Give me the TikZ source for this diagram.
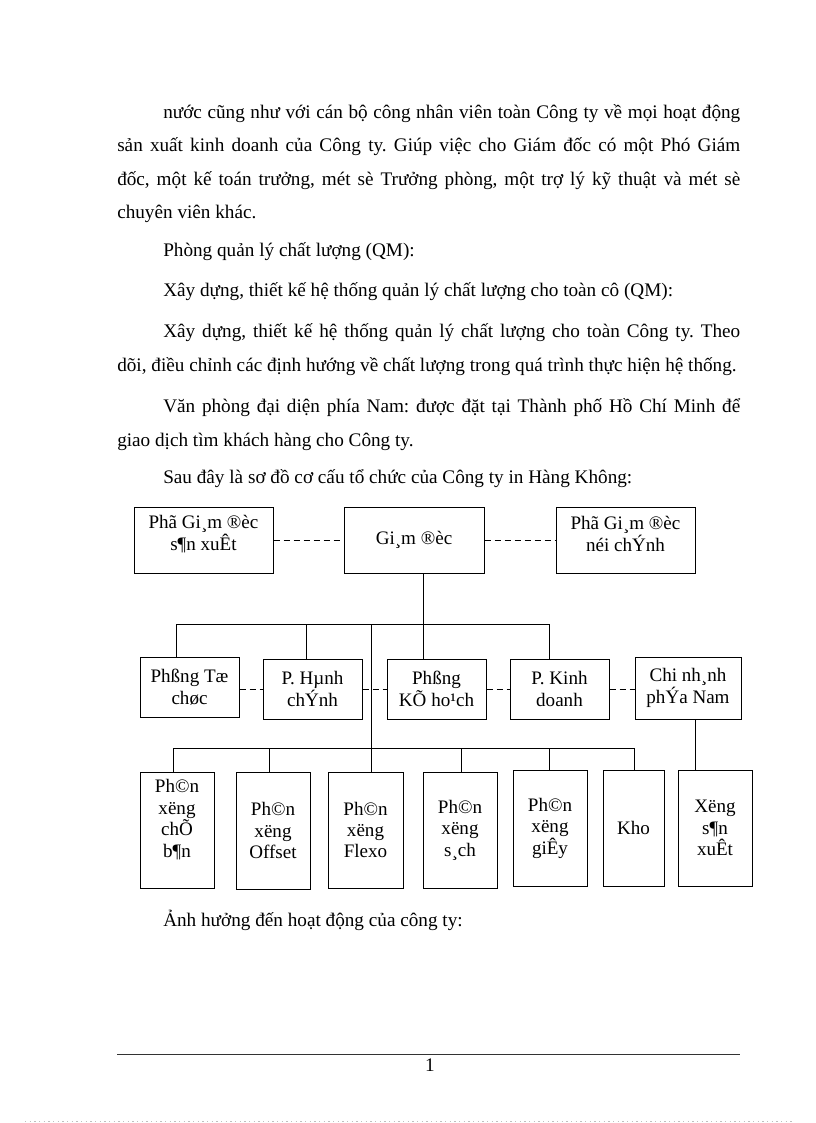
\documentclass[tikz,border=0pt]{standalone}
\usepackage{fontspec}
\setmainfont{Liberation Serif}
\frenchspacing
\begin{document}
\begin{tikzpicture}[x=0.75pt,y=-0.75pt,
  body/.style={anchor=base west, inner sep=0pt, font=\fontsize{14.4pt}{16pt}\selectfont},
  box/.style 2 args={draw, line width=0.75pt, minimum width=#1*0.75pt, minimum height=#2*0.75pt, inner sep=0pt, align=center, font=\fontsize{14.3pt}{16.1pt}\selectfont},
  txt/.style={inner sep=0pt, align=center, font=\fontsize{14.3pt}{16.1pt}\selectfont},
  conn/.style={line width=0.75pt},
  dsh/.style={line width=0.75pt, dash pattern=on 4.5pt off 3pt}]
\useasboundingbox (0,0) rectangle (816,1123);

% body text
\node[body] (l1) at (163,119) {\makebox[432.75pt][s]{nước cũng như với cán bộ công nhân viên toàn Công ty về mọi hoạt động}};
\node[body] (l2) at (117,152) {\makebox[467.25pt][s]{sản xuất kinh doanh của Công ty. Giúp việc cho Giám đốc có một Phó Giám}};
\node[body] (l3) at (117,186) {\makebox[467.25pt][s]{đốc, một kế toán trưởng, mét sè Trưởng phòng, một trợ lý kỹ thuật và mét sè}};
\node[body] (l4) at (117,219) {chuyên viên khác.};
\node[body] (p2) at (163,256) {Phòng quản lý chất lượng (QM):};
\node[body] (p3) at (163,296) {Xây dựng, thiết kế hệ thống quản lý chất lượng cho toàn cô (QM):};
\node[body] (p4a) at (163,337) {\makebox[432.75pt][s]{Xây dựng, thiết kế hệ thống quản lý chất lượng cho toàn Công ty. Theo}};
\node[body] (p4b) at (117,371) {dõi, điều chỉnh các định hướng về chất lượng trong quá trình thực hiện hệ thống.};
\node[body] (p5a) at (163,412) {\makebox[432.75pt][s]{Văn phòng đại diện phía Nam: được đặt tại Thành phố Hồ Chí Minh để}};
\node[body] (p5b) at (117,446) {giao dịch tìm khách hàng cho Công ty.};
\node[body] (p6) at (163,483) {Sau đây là sơ đồ cơ cấu tổ chức của Công ty in Hàng Không:};
\node[body] (p7) at (163,926) {Ảnh hưởng đến hoạt động của công ty:};

% top row
\node[box={139}{66}] (pgsx) at (203.5,540) {};
\node[txt] (pgsxt) at (203.5,534) {Phã Gi¸m ®èc\\s¶n xuÊt};
\node[box={140}{66}] (gd) at (414,540) {Gi¸m ®èc};
\node[box={139}{66}] (pgnc) at (625.5,540) {};
\node[txt] (pgnct) at (625.5,534) {Phã Gi¸m ®èc\\néi chÝnh};
\draw[dsh] (pgsx.east) -- (gd.west);
\draw[dsh] (gd.east) -- (pgnc.west);

% middle row
\node[box={99}{60}] (tc) at (189.5,687) {Phßng Tæ\\chøc};
\node[box={99}{60}] (hc) at (312.5,689) {P. Hµnh\\chÝnh};
\node[box={99}{60}] (kh) at (436.5,689) {Phßng\\KÕ ho¹ch};
\node[box={99}{60}] (kd) at (559.5,689) {P. Kinh\\doanh};
\node[box={106}{62}] (cn) at (688,688) {Chi nh¸nh\\phÝa Nam};

\coordinate (j1) at (423,624);
\draw[conn] (j1 |- gd.south) -- (j1 |- kh.north);
\draw[conn] (176,624) -- (549,624);
\draw[conn] (176,624) -- (176,624 |- tc.north);
\draw[conn] (306,624) -- (306,624 |- hc.north);
\draw[conn] (549,624) -- (549,624 |- kd.north);

\draw[dsh] (tc.east |- hc.west) -- (hc.west);
\draw[dsh] (hc.east) -- (kh.west);
\draw[dsh] (kh.east) -- (kd.west);
\draw[dsh] (kd.east) -- (cn.west |- kd.east);

% bottom row
\node[box={74}{116}] (b1) at (177,830) {};
\node[txt] (b1t) at (177,819.5) {Ph©n\\xëng\\chÕ\\b¶n};
\node[box={74}{117}] (b2) at (273,830.5) {Ph©n\\xëng\\Offset};
\node[box={75}{116}] (b3) at (365.5,830) {Ph©n\\xëng\\Flexo};
\node[box={74}{116}] (b4) at (460,830) {Ph©n\\xëng\\s¸ch};
\node[box={74}{116}] (b5) at (550,828) {Ph©n\\xëng\\giÊy};
\node[box={61}{116}] (b6) at (633.5,828) {Kho};
\node[box={74}{116}] (b7) at (715,828) {Xëng\\s¶n\\xuÊt};

\draw[conn] (371,624) -- (371,624 |- b3.north);
\draw[conn] (173,748) -- (634,748);
\draw[conn] (173,748) -- (173,748 |- b1.north);
\draw[conn] (269,748) -- (269,748 |- b2.north);
\draw[conn] (461,748) -- (461,748 |- b4.north);
\draw[conn] (549,748) -- (549,748 |- b5.north);
\draw[conn] (634,748) -- (634,748 |- b6.north);
\draw[conn] (695,0 |- cn.south) -- (695,0 |- b7.north);

% footer
\draw[line width=0.75pt, black!80] (117,1054) -- (740,1054);
\node[body, anchor=base] (pn) at (430,1071) {1};
\draw[line width=0.5pt, black!25, dash pattern=on 1pt off 2.5pt] (25,1121) -- (795,1121);
\end{tikzpicture}
\end{document}
